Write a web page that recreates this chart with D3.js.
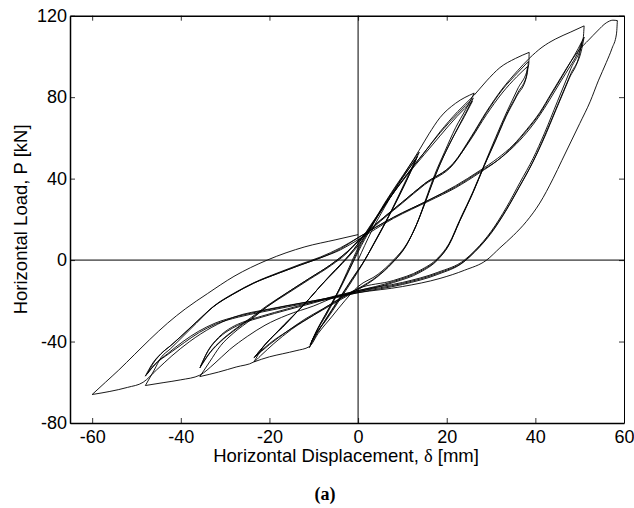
<!DOCTYPE html>
<html>
<head>
<meta charset="utf-8">
<script src="https://cdn.jsdelivr.net/npm/d3@7"></script>
<style>
  body { margin: 0; background: #fff; }
  svg { display: block; }
  .tick text { font-family: "Liberation Sans", Arial, sans-serif; font-size: 18px; fill: #000; }
</style>
</head>
<body>
<script>
// hysteresis: load P [kN] vs displacement [mm], cycles in test order
var xTicks = [-60, -40, -20, 0, 20, 40, 60];
var yTicks = [-80, -40, 0, 40, 80, 120];

var cycleA1 = [[0,0],[3,14],[6,26],[9,37],[11.5,46],[13.8,53],
  [12.2,45],[9.8,34],[7,22],[4,10],[1.5,0],[-1,-8],[-4,-18],[-7,-28],[-9.5,-37],[-11,-43],
  [-9.6,-36],[-7.2,-27],[-4.5,-16],[-2,-5],[0,4]];
var cycleA2 = [[0,4],[3,16],[6,27.5],[9,37.5],[11.5,45],[13.4,51],
  [11.8,43],[9.4,32],[6.6,20],[3.6,8],[1.2,-1],[-1.2,-9],[-4.2,-19],[-7.2,-29],[-9.4,-36],[-10.8,-41.5],
  [-9.4,-35],[-7,-25.5],[-4.4,-15],[-2,-4.5],[0,5]];
var cycleA3 = [[0,5],[3,16.5],[6,27.5],[9,37],[11.2,44],[13,49.5],
  [11.4,42],[9,31],[6.3,19],[3.3,7],[1,-2],[-1.3,-10],[-4.3,-20],[-7.2,-29.5],[-9.3,-35.5],[-10.5,-40],
  [-9.2,-34],[-6.8,-24.5],[-4.2,-14],[-2,-3.5],[0,6]];

var cycleB1 = [[0,6],[3,17],[6,28],[9,38],[11.5,46],[13.8,54],[16,62],[18.5,70],[22,77],[26.2,82],
  [24.3,74],[22,65],[19.5,53],[17.3,42],[15.3,30],[13.3,18],[11,8],[8,0],[4.5,-7],[0,-13],
  [-3,-20],[-6,-28],[-9,-36],[-11,-42.5],[-14,-44.5],[-17,-46],[-20,-47.5],[-23.5,-50],
  [-21.5,-43],[-19,-37],[-17,-33],[-14,-26],[-11,-19],[-8.6,-13],[-5,-5],[-2,2],[0,7]];
var cycleB2 = [[0,7],[3.4,18],[7,30],[11,42],[15,53],[18.5,62.5],[22.5,72],[26,79.5],
  [24.2,72],[21.8,62],[19.3,51],[17.1,40],[15.1,28],[13.1,17],[10.8,7],[7.8,-1],[4.3,-8],[0,-14],
  [-4,-19],[-8,-24],[-12,-29],[-16,-35],[-20,-41.5],[-23.5,-48],
  [-21.2,-42],[-18.8,-36.5],[-16.8,-32],[-13.8,-25.5],[-10.8,-18.5],[-8.4,-12.5],[-5,-4.5],[-2,2.5],[0,8]];
var cycleB3 = [[0,8],[3.4,18.5],[7,30],[11,41.5],[15,52],[18.5,61],[22.3,70.5],[25.8,78],
  [24,70.5],[21.6,61],[19.1,50],[17,39],[15,27.5],[13,16.5],[10.7,6.5],[7.7,-1.5],[4.2,-8.5],[0,-14.5],
  [-4,-19.5],[-8,-24.5],[-12,-29.5],[-16,-35],[-20,-41],[-23.3,-47.5],
  [-21,-41.5],[-18.6,-36],[-16.6,-31.5],[-13.6,-25],[-10.6,-18],[-8.2,-12],[-5,-4.5],[-2,2.5],[0,8]];

var cycleC1 = [[0,8],[3.4,19],[7,30],[11,42],[15,53],[18.5,63],[22.5,73],[26.2,81],[29,88],[32,94.5],[35.5,99],[38.6,102],
  [38.5,96],[36,84],[33.6,73],[31,60],[28.5,47],[26,34],[23,20],[20.5,8],[18,1],[14,-5],[8,-10],[0,-14],
  [-5,-20],[-10,-27],[-15,-34],[-19,-41],[-22,-47],[-23.5,-50],[-27.5,-52.5],[-31.5,-55],[-35.7,-57.2],
  [-33.5,-50],[-31,-42],[-28.2,-36],[-24,-29],[-20.6,-23],[-16,-16],[-11,-9],[-6,-2],[-2.5,4],[0,9]];
var cycleC2 = [[0,9],[5,19],[10,28],[15,37],[21.5,47],[25.5,60],[29,72.5],[32.5,83.5],[36,92],[38.4,97.5],
  [38.2,92],[36,82],[33.5,71.5],[31,59],[28.5,46.5],[26,33.5],[23,19.5],[20.5,7.5],[18,0.5],[14,-5.5],[8,-10.5],[0,-15],
  [-5,-17.5],[-10,-20.5],[-16,-24],[-21.7,-27.5],[-26,-30.5],[-28.5,-33],[-31.5,-38],[-34,-45],[-35.7,-53],
  [-33.4,-45.5],[-31,-40],[-28.2,-35],[-24,-28.5],[-20.6,-23],[-16,-16.5],[-11,-9.5],[-6,-2.5],[-2.5,3.5],[0,9.5]];
var cycleC3 = [[0,9.5],[5,19.5],[10,28.5],[15,37.5],[21.5,47.5],[25.5,59.5],[29,71.5],[32.5,82],[35.8,90],[38.2,95],
  [38,90],[35.8,80.5],[33.4,70.5],[30.9,58],[28.4,46],[25.9,33],[22.9,19],[20.4,7],[17.9,0],[14,-6],[8,-11],[0,-15.5],
  [-5,-18],[-10,-21],[-16,-24.5],[-21.7,-28],[-26,-31],[-28.4,-33.5],[-31.3,-38],[-33.8,-44.5],[-35.5,-52],
  [-33.3,-45],[-30.9,-39.5],[-28.1,-34.5],[-24,-28],[-20.6,-22.5],[-16,-16],[-11,-9],[-6,-2],[-2.5,4],[0,9.5]];

var cycleD1 = [[0,9.5],[5,19.5],[10,28.5],[15,37.5],[21.5,47.5],[25.5,60.5],[29,73],[32.5,84],[36,93],[38.6,99],[41.5,104.5],[44.5,108.5],[48,112],[51,115],
  [50.8,109],[48,94],[45,78],[42,62],[39.5,50],[36.5,38],[33.5,26],[30,14],[26.5,5],[24,0],[18,-6],[10,-11],[0,-15],
  [-5,-18],[-10,-22.5],[-16,-27],[-21,-32],[-25,-37.5],[-29,-44],[-32.5,-51],[-35.7,-56.5],[-40,-58.8],[-44,-60.2],[-48,-61.6],
  [-46,-54],[-44.5,-48],[-42.3,-43.5],[-40.2,-39],[-36.5,-31],[-32.7,-23],[-28,-16.5],[-23.6,-11.4],[-18,-6.5],[-13.1,-2.5],[-8.6,1],[-4,5],[0,10]];
var cycleD2 = [[0,10],[8,20.5],[16,29],[22,35.5],[27.5,43],[31.5,49],[35,56],[38,63.5],[41,72],[43.5,81],[46,90],[48,97.5],[49.7,104],[51,109.5],
  [50.5,104],[48,91.5],[45,76],[42,60.5],[39.5,48.5],[36.5,36.5],[33.5,25],[30,13.5],[26.5,4.5],[24,-0.5],[18,-6.5],[10,-11.5],[0,-15.5],
  [-5,-18],[-10,-20],[-16,-22.5],[-21.7,-25],[-27,-27.5],[-32.3,-31],[-36,-35],[-39.5,-40],[-43,-46],[-46,-51.5],[-48,-57],
  [-46.3,-50.5],[-44.5,-46],[-42.3,-42],[-40.2,-38],[-36.5,-30.5],[-32.7,-23],[-28,-16.5],[-23.6,-11.4],[-18,-6.5],[-13.1,-2.5],[-8.6,1],[-4,5.5],[0,11]];
var cycleD3 = [[0,11],[8,21],[16,29.5],[22,36],[27.5,43.5],[31.5,49],[35,55.5],[38,62.5],[40.8,70.5],[43.3,79],[45.8,88],[47.8,95],[49.4,101],[50.5,107],
  [50,101.5],[47.6,89],[44.7,74],[41.8,59],[39.3,47.5],[36.3,35.5],[33.3,24],[29.8,12.5],[26.3,4],[23.8,-1],[18,-7],[10,-12],[0,-16],
  [-5,-18.5],[-10,-20.5],[-16,-23],[-21.7,-25.5],[-27,-28],[-32.2,-31.5],[-35.8,-35.5],[-39.2,-40.5],[-42.7,-46],[-45.7,-51],[-47.6,-56],
  [-46,-50],[-44.2,-45.5],[-42,-41.5],[-40,-37.5],[-36.3,-30],[-32.5,-22.5],[-27.8,-16],[-23.4,-11],[-17.8,-6],[-13,-2],[-8.5,1.5],[-4,6],[0,11]];

var cycleE1 = [[0,11],[8,21],[16,29.5],[22,36.5],[27.5,44],[31.5,50],[35,56.5],[38,64],[41,72.5],[43.5,81.5],[46,90.5],[48,97.5],[50,103.5],[52,108],[54,112.5],[56,116.5],[57.5,117.8],[58.5,117.6],
  [58.3,111],[57.3,104],[56,97],[54.2,88],[52.4,78],[50,67],[48,58],[46,49],[44,40],[41,28],[38,19],[35,12],[32,6],[29,0],[24,-5],[18.5,-9],[10,-13],[0,-16],
  [-10,-20],[-20,-24],[-28,-28],[-33,-33],[-38,-40],[-42,-47],[-45.5,-54],[-48.5,-60],[-52,-62.5],[-56,-64.5],[-60,-66],
  [-57,-60],[-54,-54],[-50.5,-46.5],[-47,-39],[-43,-31],[-39,-24],[-34,-16.5],[-28,-8],[-20.5,0],[-12,6.5],[-5,10],[0,12.5]];

var cycles = [cycleA1, cycleA2, cycleA3, cycleB1, cycleB2, cycleB3,
              cycleC1, cycleC2, cycleC3, cycleD1, cycleD2, cycleD3, cycleE1];

var width = 634, height = 508;
var margin = {left: 70, right: 10, top: 15.7, bottom: 85};

var x = d3.scaleLinear().domain([-65, 60]).range([margin.left, width - margin.right]);
var y = d3.scaleLinear().domain([-80, 120]).range([height - margin.bottom, margin.top]);

var svg = d3.select("body").append("svg").attr("width", width).attr("height", height);

// one long history, cut at each displacement reversal so the peaks stay sharp
var pts = [];
cycles.forEach(function(c) {
  c.forEach(function(p) {
    var last = pts[pts.length - 1];
    if (!last || last[0] !== p[0] || last[1] !== p[1]) pts.push(p);
  });
});
var segs = [], cur = [pts[0]], dir = 0;
for (var i = 1; i < pts.length; i++) {
  var d = Math.sign(pts[i][0] - pts[i - 1][0]);
  if (dir !== 0 && d !== dir) { segs.push(cur); cur = [pts[i - 1]]; }
  dir = d;
  cur.push(pts[i]);
}
segs.push(cur);

var line = d3.line()
  .x(function(d) { return x(d[0]); })
  .y(function(d) { return y(d[1]); })
  .curve(d3.curveMonotoneX);

var plot = svg.append("g");
segs.forEach(function(s) {
  var ss = s[0][0] > s[s.length - 1][0] ? s.slice().reverse() : s;
  plot.append("path").attr("d", line(ss))
    .attr("fill", "none").attr("stroke", "#000").attr("stroke-width", 0.9);
});

// zero lines
svg.append("line").attr("x1", x(0)).attr("x2", x(0)).attr("y1", y(120)).attr("y2", y(-80))
  .attr("stroke", "#000").attr("stroke-width", 1);
svg.append("line").attr("x1", x(-65)).attr("x2", x(60)).attr("y1", y(0)).attr("y2", y(0))
  .attr("stroke", "#000").attr("stroke-width", 1);

var fmt = function(d) { return String(d); };
var x0 = margin.left, x1 = width - margin.right, y0 = height - margin.bottom, y1 = margin.top;

var gb = svg.append("g").attr("transform", "translate(0," + y0 + ")")
  .call(d3.axisBottom(x).tickValues(xTicks).tickFormat(fmt).tickSize(-5).tickSizeOuter(0).tickPadding(7));
var gt = svg.append("g").attr("transform", "translate(0," + y1 + ")")
  .call(d3.axisTop(x).tickValues(xTicks).tickFormat("").tickSize(-5).tickSizeOuter(0));
var gl = svg.append("g").attr("transform", "translate(" + x0 + ",0)")
  .call(d3.axisLeft(y).tickValues(yTicks).tickFormat(fmt).tickSize(-5).tickSizeOuter(0).tickPadding(3));
var gr = svg.append("g").attr("transform", "translate(" + x1 + ",0)")
  .call(d3.axisRight(y).tickValues(yTicks).tickFormat("").tickSize(-5).tickSizeOuter(0));

svg.selectAll(".domain").attr("stroke", "#000").attr("stroke-width", 1.5);
gr.select(".domain").attr("stroke-width", 1);
svg.selectAll(".tick line").attr("stroke", "#000").attr("stroke-width", 0.8);

// titles
svg.append("text")
  .attr("transform", "translate(27," + ((y0 + y1) / 2) + ") rotate(-90)")
  .attr("text-anchor", "middle")
  .style("font-family", "'Liberation Sans', Arial, sans-serif").style("font-size", "18.5px")
  .text("Horizontal Load,  P [kN]");

var xt = svg.append("text")
  .attr("x", 346).attr("y", 462)
  .attr("text-anchor", "middle")
  .style("font-family", "'Liberation Sans', Arial, sans-serif").style("font-size", "18.5px");
xt.append("tspan").text("Horizontal Displacement, ");
xt.append("tspan").style("font-family", "'Liberation Serif', 'Times New Roman', serif").text("δ");
xt.append("tspan").text(" [mm]");

svg.append("text")
  .attr("x", 325).attr("y", 500)
  .attr("text-anchor", "middle")
  .style("font-family", "'Liberation Serif', 'Times New Roman', serif").style("font-size", "18px")
  .style("font-weight", "bold")
  .text("(a)");
</script>
</body>
</html>
